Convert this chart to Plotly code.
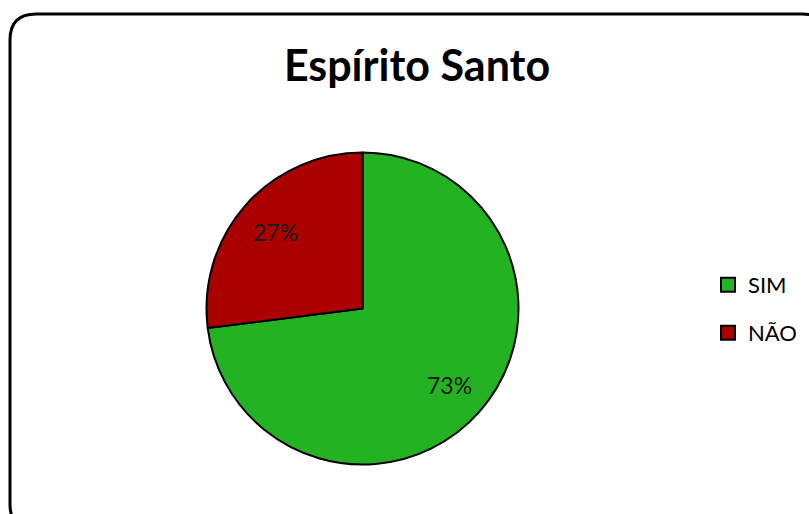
import math
import plotly.graph_objects as go

W, H = 809, 514

categories = ["SIM", "NÃO"]
values = [73, 27]
colors = ["#22b222", "#aa0000"]
title_text = "Espírito Santo"

FONT = "Lato, 'Open Sans', sans-serif"

# pie geometry in pixels
cx, cy, r = 362.5, 308.5, 156

fig = go.Figure()
fig.add_trace(go.Pie(
    labels=categories,
    values=values,
    sort=False,
    direction="clockwise",
    rotation=0,
    marker=dict(colors=colors, line=dict(color="black", width=2)),
    textinfo="none",
    hoverinfo="label+percent",
    showlegend=False,
    domain=dict(
        x=[(cx - r) / W, (cx + r) / W],
        y=[(H - cy - r) / H, (H - cy + r) / H],
    ),
))

# percentage labels placed at each slice's mid-angle
total = sum(values)
start = 0.0
annotations = []
for v in values:
    frac = v / total
    mid = (start + frac / 2) * 2 * math.pi
    start += frac
    lr = 0.74 * r
    px_ = cx + lr * math.sin(mid)
    py_ = cy - lr * math.cos(mid)
    annotations.append(dict(
        x=px_ / W, y=1 - py_ / H, xref="paper", yref="paper",
        text=f"{round(frac * 100)}%", showarrow=False,
        font=dict(family=FONT, size=23, color="#1a1a1a"),
        xanchor="center", yanchor="middle",
    ))

# legend entries, one legend box per category
legend_names = ["legend", "legend2"]
legend_y = [285, 333]
for name, col, lg in zip(categories, colors, legend_names):
    fig.add_trace(go.Scatter(
        x=[None], y=[None], mode="markers", name=name,
        marker=dict(symbol="square", size=14, color=col,
                    line=dict(color="black", width=2)),
        legend=lg, showlegend=True, hoverinfo="skip",
    ))


def rounded_rect(x0, y0, x1, y1, rad):
    def px(x):
        return x / W

    def py(y):
        return 1 - y / H

    return (
        f"M {px(x0 + rad)},{py(y0)} L {px(x1 - rad)},{py(y0)} "
        f"Q {px(x1)},{py(y0)} {px(x1)},{py(y0 + rad)} "
        f"L {px(x1)},{py(y1 - rad)} "
        f"Q {px(x1)},{py(y1)} {px(x1 - rad)},{py(y1)} "
        f"L {px(x0 + rad)},{py(y1)} "
        f"Q {px(x0)},{py(y1)} {px(x0)},{py(y1 - rad)} "
        f"L {px(x0)},{py(y0 + rad)} "
        f"Q {px(x0)},{py(y0)} {px(x0 + rad)},{py(y0)} Z"
    )


legend_common = dict(
    x=708 / W, xanchor="left", yanchor="middle",
    font=dict(family=FONT, size=22, color="black"),
    bgcolor="rgba(0,0,0,0)", itemsizing="trace",
)

fig.update_layout(
    width=W,
    height=H,
    margin=dict(l=0, r=0, t=0, b=0),
    paper_bgcolor="white",
    plot_bgcolor="white",
    xaxis=dict(visible=False),
    yaxis=dict(visible=False),
    title=dict(
        text=f"<b>{title_text}</b>",
        x=417 / W,
        xanchor="center",
        y=1 - 66 / H,
        yanchor="middle",
        font=dict(family=FONT, size=43, color="black"),
    ),
    legend=dict(y=1 - legend_y[0] / H, **legend_common),
    legend2=dict(y=1 - legend_y[1] / H, **legend_common),
    annotations=annotations,
    shapes=[dict(
        type="path",
        xref="paper",
        yref="paper",
        path=rounded_rect(10, 14, 828, 530, 26),
        line=dict(color="black", width=3),
        fillcolor="rgba(0,0,0,0)",
        layer="above",
    )],
)

fig.write_html("out.html")
